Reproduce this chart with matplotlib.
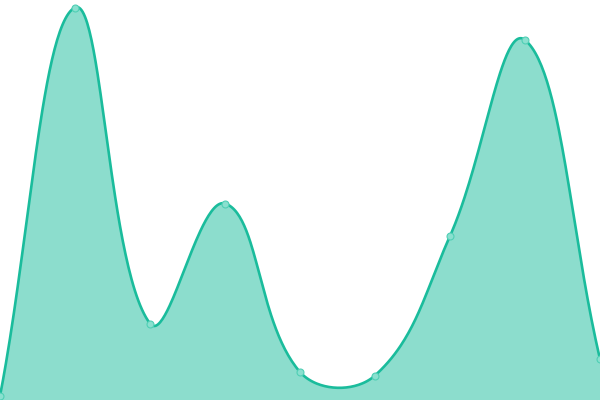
import numpy as np
import matplotlib
matplotlib.use("Agg")
import matplotlib.pyplot as plt

# series values (y axis 0..400, x = point index)
labels = ["A", "B", "C", "D", "E", "F", "G", "H", "I"]
values = [4, 392.5, 76.5, 196.5, 28, 24.5, 164, 360, 41]

line_color = "#1abc9c"
tension = 0.4

fig = plt.figure(figsize=(6, 4), dpi=100)
ax = fig.add_axes([0, 0, 1, 1])
ax.set_xlim(0, len(values) - 1)
ax.set_ylim(0, 400)
ax.axis("off")

x = np.arange(len(values))
pts = ax.transData.transform(np.column_stack([x, values]))

# cardinal spline control points, computed in pixel space
n = len(pts)
curve = []
for i in range(n - 1):
    def ctrl(j):
        prev = pts[max(j - 1, 0)]
        cur = pts[j]
        nxt = pts[min(j + 1, n - 1)]
        d01 = np.hypot(*(cur - prev))
        d12 = np.hypot(*(nxt - cur))
        tot = d01 + d12
        s01 = d01 / tot if tot else 0
        s12 = d12 / tot if tot else 0
        c1 = cur - tension * s01 * (nxt - prev)
        c2 = cur + tension * s12 * (nxt - prev)
        return c1, c2
    _, p1 = ctrl(i)
    p2, _ = ctrl(i + 1)
    p0, p3 = pts[i], pts[i + 1]
    t = np.linspace(0, 1, 60)[:, None]
    seg = ((1 - t) ** 3) * p0 + 3 * ((1 - t) ** 2) * t * p1 + 3 * (1 - t) * t ** 2 * p2 + t ** 3 * p3
    curve.append(seg if i == 0 else seg[1:])
curve = np.vstack(curve)
curve[:, 1] = np.clip(curve[:, 1], *ax.transData.transform([[0, 0], [0, 400]])[:, 1])
cx, cy = ax.transData.inverted().transform(curve).T

ax.fill_between(cx, cy, 0, color=line_color, alpha=0.5, linewidth=0)
ax.plot(cx, cy, color=line_color, linewidth=1.9, solid_capstyle="round")
ax.plot(x, values, "o", markersize=5, markerfacecolor="#8ae0cf",
        markeredgecolor="#4fcfb5", markeredgewidth=0.8, clip_on=False)

fig.savefig("out.png", dpi=100)
